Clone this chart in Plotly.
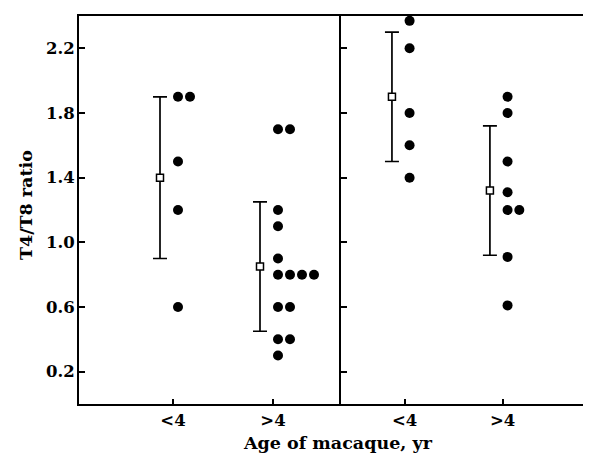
import plotly.graph_objects as go
from plotly.subplots import make_subplots

# ---- data ----
categories = ["<4", ">4"]
cat_pos = [1, 2]

left_lt4 = [1.9, 1.9, 1.5, 1.2, 0.6]
left_gt4 = [1.7, 1.7, 1.2, 1.1, 0.9, 0.8, 0.8, 0.8, 0.8, 0.6, 0.6, 0.4, 0.4, 0.3]
right_lt4 = [2.37, 2.2, 1.8, 1.6, 1.4]
right_gt4 = [1.9, 1.8, 1.5, 1.31, 1.2, 1.2, 0.91, 0.61]

left_means = [1.4, 0.85]
left_sd = [0.5, 0.4]
right_means = [1.9, 1.32]
right_sd = [0.4, 0.4]

y_ticks = [0.2, 0.6, 1.0, 1.4, 1.8, 2.2]

# ---- layout helpers ----
DOT_OFF = 0.05
DOT_STEP = 0.12
BAR_OFF = -0.13


def swarm(values, pos):
    xs, seen = [], {}
    for v in values:
        k = seen.get(v, 0)
        seen[v] = k + 1
        xs.append(pos + DOT_OFF + k * DOT_STEP)
    return xs


FONT = dict(family="DejaVu Serif", size=17.5, color="black", weight="bold")
TICKFONT = dict(family="DejaVu Serif", size=16.5, color="black", weight="bold")

fig = make_subplots(rows=1, cols=2, shared_yaxes=False, horizontal_spacing=0)

panels = [
    (1, [left_lt4, left_gt4], left_means, left_sd),
    (2, [right_lt4, right_gt4], right_means, right_sd),
]
for col, groups, means, sds in panels:
    for vals, pos in zip(groups, cat_pos):
        fig.add_trace(go.Scatter(
            x=swarm(vals, pos), y=vals, mode="markers",
            marker=dict(symbol="circle", size=10, color="black"),
            showlegend=False, cliponaxis=False), row=1, col=col)
    fig.add_trace(go.Scatter(
        x=[p + BAR_OFF for p in cat_pos], y=means, mode="markers",
        marker=dict(symbol="square", size=7, color="white",
                    line=dict(color="black", width=1.5)),
        error_y=dict(type="data", array=sds, visible=True, color="black",
                     thickness=1.7, width=7),
        showlegend=False), row=1, col=col)

# page body has an 8px margin, so the figure is 8px smaller
W, H = 590, 455
L, R, T, B = 71, 15, 6, 59
plot_w = W - L - R
plot_h = H - T - B
split = 262 / plot_w

axis_common = dict(showline=True, linecolor="black", linewidth=2,
                   showgrid=False, zeroline=False, ticks="inside",
                   tickcolor="black", tickwidth=1.5, mirror=False)

fig.update_xaxes(**axis_common, tickvals=cat_pos, ticktext=categories,
                 ticklen=5, tickfont=TICKFONT)
fig.update_xaxes(domain=[0, split], range=[0.06, 2.68], row=1, col=1)
fig.update_xaxes(domain=[split, 1], range=[0.35, 2.82], row=1, col=2)
for ax in ("xaxis", "xaxis2"):
    fig.layout[ax].mirror = True

fig.update_yaxes(**axis_common, range=[0, 2.4], tickvals=y_ticks,
                 ticktext=[f"{v:.1f}" for v in y_ticks], ticklen=6,
                 tickfont=TICKFONT)
fig.update_yaxes(ticklabelstandoff=-1, row=1, col=1)
fig.update_yaxes(showticklabels=False, row=1, col=2)

fig.add_annotation(text="Age of macaque, yr", xref="paper", yref="paper",
                   x=(330 - L) / plot_w, y=-(435 - (H - B)) / plot_h,
                   xanchor="center", yanchor="middle", showarrow=False,
                   font=FONT)
fig.add_annotation(text="T4/T8 ratio", xref="paper", yref="paper",
                   x=-(L - 18) / plot_w, y=1 - (196 - T) / plot_h,
                   xanchor="center", yanchor="middle", showarrow=False,
                   textangle=-90, font=FONT)

fig.update_layout(width=W, height=H, margin=dict(l=L, r=R, t=T, b=B),
                  paper_bgcolor="white", plot_bgcolor="white",
                  font=FONT)

fig.write_html("out.html")
